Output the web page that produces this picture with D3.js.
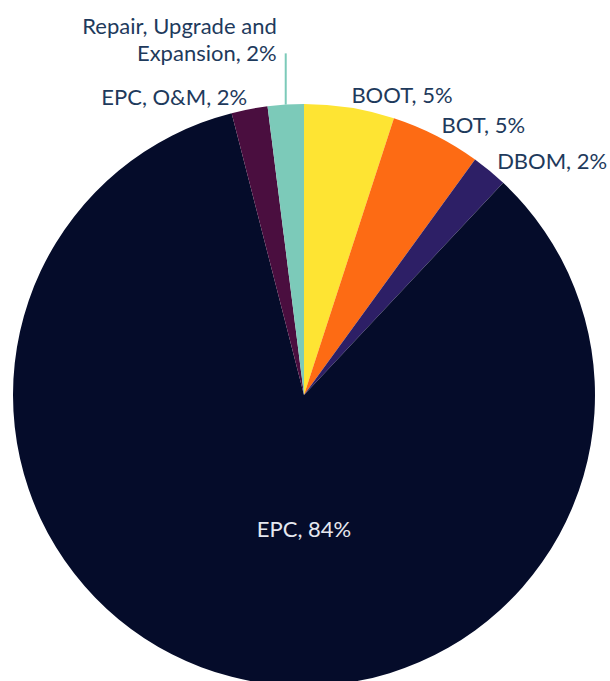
<!DOCTYPE html>
<html><head><meta charset="utf-8">
<script src="https://cdn.jsdelivr.net/npm/d3@7"></script>
<style>html,body{margin:0;padding:0;background:#fff;overflow:hidden}</style>
</head><body>
<svg id="chart" width="610" height="681"></svg>
<script>
const categories = ["BOOT", "BOT", "DBOM", "EPC", "EPC, O&M", "Repair, Upgrade and Expansion"];
const labelLines = [["BOOT, 5%"], ["BOT, 5%"], ["DBOM, 2%"], ["EPC, 84%"], ["EPC, O&M, 2%"], ["Repair, Upgrade and", "Expansion, 2%"]];
const values = [5, 5, 2, 84, 2, 2];
const colors = ["#fee433", "#fd6b14", "#2d1f66", "#050c2a", "#4a0e3f", "#7ccab9"];

const W = 610, H = 681;
const cx = 304, cy = 395, R = 291;
const fontSize = 22, lineH = 27;
const svg = d3.select("#chart");
const g = svg.append("g").attr("transform", `translate(${cx},${cy})`);

const data = categories.map((c, i) => ({name: c, value: values[i], color: colors[i], lines: labelLines[i]}));
const pie = d3.pie().value(d => d.value).sort(null);
const arcs = pie(data);
const arc = d3.arc().innerRadius(0).outerRadius(R);

g.selectAll("path.slice").data(arcs).enter().append("path")
  .attr("class", "slice")
  .attr("d", arc)
  .attr("fill", d => d.data.color);

// label layout
const labR = R + 12;
const big = arcs.reduce((a, b) => (b.value > a.value ? b : a));
const outside = arcs.filter(a => a !== big).map(a => {
  const m = (a.startAngle + a.endAngle) / 2;
  const n = a.data.lines.length;
  return {a, m, n, x: Math.sin(m) * labR, y: -Math.cos(m) * labR,
          ax: Math.sin(m) * R, ay: -Math.cos(m) * R,
          side: Math.sin(m) >= 0 ? "right" : "left", moved: false};
});
// resolve overlaps on the left side: push labels up
const pad = 17;
const left = outside.filter(l => l.side === "left").sort((p, q) => q.y - p.y);
for (let i = 1; i < left.length; i++) {
  const below = left[i - 1], cur = left[i];
  const belowTop = below.y - lineH / 2 - (below.n - 1) * lineH;
  const curBottom = cur.y + lineH / 2;
  if (curBottom > belowTop - pad && Math.abs(cur.x - below.x) < 120) {
    cur.y = belowTop - pad - lineH / 2;
    cur.moved = true;
  }
}

const labels = g.append("g");
outside.forEach(l => {
  let tx = l.x, anchor = l.side === "right" ? "start" : "end";
  if (l.moved) {
    g.append("line")
      .attr("x1", l.ax).attr("y1", l.ay)
      .attr("x2", l.ax).attr("y2", l.y)
      .attr("stroke", l.a.data.color).attr("stroke-width", 2);
    tx = l.ax - 9;
  }
  const t = labels.append("text")
    .attr("x", tx).attr("y", l.y)
    .attr("text-anchor", anchor)
    .attr("font-family", "Lato, 'Open Sans', sans-serif")
    .attr("font-size", fontSize)
    .attr("fill", "#1e3a5c");
  l.a.data.lines.forEach((s, i) => {
    t.append("tspan").attr("x", tx)
      .attr("dy", i === 0 ? (-(l.n - 1) * lineH + fontSize * 0.35) : lineH)
      .text(s);
  });
});

// label of the dominant slice, placed below the centre
labels.append("text")
  .attr("x", 0).attr("y", R * 0.46)
  .attr("text-anchor", "middle")
  .attr("dy", fontSize * 0.35)
  .attr("font-family", "Lato, 'Open Sans', sans-serif")
  .attr("font-size", fontSize)
  .attr("fill", "#e6e8f0")
  .text(big.data.lines[0]);
</script>
</body></html>
